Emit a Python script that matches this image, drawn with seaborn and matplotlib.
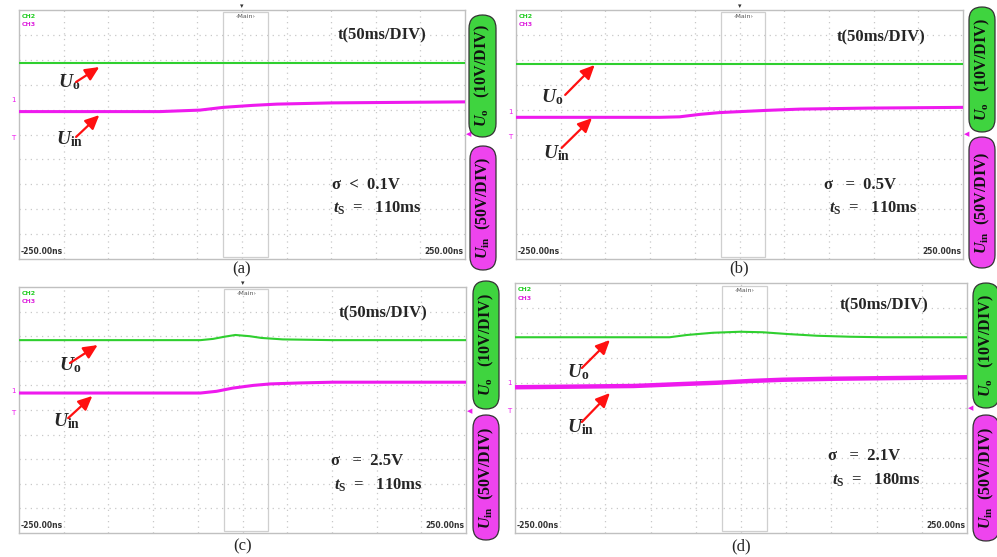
import numpy as np
import matplotlib
matplotlib.use("Agg")
import matplotlib.pyplot as plt
from matplotlib.patches import Rectangle, FancyBboxPatch
import matplotlib.transforms as mtransforms
import seaborn as sns

# ---------------- data (time in ms, level in screen divisions 0..10) ----------------
a_t_uo = [-250, 250]
a_uo = [7.87, 7.87]
a_t_uin = [-250, -92, -47, -21, 12, 39, 102, 250]
a_uin = [5.92, 5.92, 5.98, 6.09, 6.17, 6.22, 6.27, 6.31]

b_t_uo = [-250, 250]
b_uo = [7.83, 7.83]
b_t_uin = [-250, -89, -67, -44, -22, 1, 31, 68, 143, 250]
b_uin = [5.69, 5.69, 5.71, 5.81, 5.88, 5.92, 5.97, 6.02, 6.06, 6.09]

c_t_uo = [-250, -47, -33, -20, -8, 8, 21, 45, 101, 250]
c_uo = [7.84, 7.84, 7.89, 7.98, 8.05, 8.0, 7.93, 7.87, 7.84, 7.84]
c_t_uin = [-250, -47, -29, -11, 12, 31, 64, 101, 250]
c_uin = [5.69, 5.69, 5.76, 5.89, 6.00, 6.06, 6.10, 6.13, 6.13]

d_t_uo = [-250, -79, -60, -31, -1, 24, 51, 84, 121, 157, 250]
d_uo = [7.83, 7.83, 7.92, 8.01, 8.05, 8.03, 7.96, 7.89, 7.85, 7.83, 7.83]
d_t_uin = [-250, -119, -64, -27, 10, 46, 102, 176, 250]
d_uin = [5.83, 5.88, 5.96, 6.01, 6.08, 6.13, 6.17, 6.20, 6.23]

panel_labels = ["(a)", "(b)", "(c)", "(d)"]
sigma_texts = ["σ  <  0.1V", "σ   =  0.5V", "σ   =  2.5V", "σ   =  2.1V"]
ts_values = ["110ms", "110ms", "110ms", "180ms"]
time_scale = "t(50ms/DIV)"
uo_scale = r"$U_{\rm o}$   (10V/DIV)"
uin_scale = r"$U_{\rm in}$  (50V/DIV)"
left_time = "-250.00ns"
right_time = "250.00ns"

# ---------------- style ----------------
sns.set_theme(style="white")
plt.rcParams["font.family"] = ["Liberation Serif", "DejaVu Serif"]
plt.rcParams["mathtext.fontset"] = "custom"
plt.rcParams["mathtext.rm"] = "Liberation Serif:bold"
plt.rcParams["mathtext.bf"] = "Liberation Serif:bold"
plt.rcParams["mathtext.it"] = "Liberation Serif:italic:bold"

GREEN = "#2fcf2f"
MAGENTA = "#ee1aee"
PILL_G = "#3fd43f"
PILL_M = "#ee44ee"
GRID = "#c8c8c8"

W, H = 997, 557
fig = plt.figure(figsize=(W / 100, H / 100), dpi=100)


def px_axes(x0, y0, x1, y1):
    return fig.add_axes([x0 / W, (H - y1) / H, (x1 - x0) / W, (y1 - y0) / H])


panels = [
    dict(box=(19, 10, 465, 259), t_uo=a_t_uo, uo=a_uo, t_uin=a_t_uin, uin=a_uin, uin_lw=2.2, trig=True,
         uo_arrow=((-186, 7.11), (-160, 7.71)), uo_lab=(-206, 6.9),
         uin_arrow=((-186, 4.9), (-160, 5.78)), uin_lab=(-208, 4.62),
         title=(157, 9.0), sig=(101, 2.81), ts=(102, 1.85),
         markers=(6.39, 4.86, 5.03),
         pill_g=(469, 15, 496, 137), pill_m=(470, 146, 496, 270), lab_y=269),
    dict(box=(516, 10, 963, 259), t_uo=b_t_uo, uo=b_uo, t_uin=b_t_uin, uin=b_uin, uin_lw=2.2, trig=True,
         uo_arrow=((-195, 6.59), (-162, 7.79)), uo_lab=(-222, 6.31),
         uin_arrow=((-199, 4.46), (-165, 5.66)), uin_lab=(-220, 4.06),
         title=(158, 8.88), sig=(95, 2.81), ts=(100, 1.85),
         markers=(5.9, 4.9, 5.03),
         pill_g=(969, 7, 995, 132), pill_m=(969, 137, 995, 268), lab_y=268),
    dict(box=(19, 287, 466, 533), t_uo=c_t_uo, uo=c_uo, t_uin=c_t_uin, uin=c_uin, uin_lw=2.2, trig=True,
         uo_arrow=((-193, 6.91), (-162, 7.64)), uo_lab=(-205, 6.63),
         uin_arrow=((-195, 4.67), (-168, 5.57)), uin_lab=(-212, 4.35),
         title=(157, 8.94), sig=(99, 2.76), ts=(102, 1.75),
         markers=(5.76, 4.87, 4.96),
         pill_g=(473, 281, 499, 409), pill_m=(473, 415, 499, 540), lab_y=546),
    dict(box=(515, 283, 967, 533), t_uo=d_t_uo, uo=d_uo, t_uin=d_t_uin, uin=d_uin, uin_lw=3.2, trig=False,
         uo_arrow=((-176, 6.6), (-145, 7.72)), uo_lab=(-192, 6.24),
         uin_arrow=((-176, 4.44), (-145, 5.6)), uin_lab=(-192, 4.04),
         title=(158, 9.12), sig=(96, 2.92), ts=(101, 1.92),
         markers=(6.0, 4.88, 5.0),
         pill_g=(973, 283, 999, 408), pill_m=(973, 415, 999, 541), lab_y=546),
]

for i, p in enumerate(panels):
    ax = px_axes(*p["box"])
    ax.set_xlim(-250, 250)
    ax.set_ylim(0, 10)
    ax.set_facecolor("white")
    ax.set_xticks(np.arange(-200, 250, 50))
    ax.set_yticks(np.arange(1, 10, 1))
    ax.tick_params(length=0, labelbottom=False, labelleft=False)
    ax.grid(True, color=GRID, linestyle=(0, (1, 3.5)), linewidth=0.9)
    for s in ax.spines.values():
        s.set_color("#c0c0c0")
        s.set_linewidth(1.0)

    # "Main" zoom window
    ax.add_patch(Rectangle((-21, 0.08), 50, 9.82, fill=False, edgecolor="#cfcfcf", lw=0.9, zorder=2))
    ax.text(4, 9.72, "‹Main›", fontsize=4.5, ha="center", va="center", family="DejaVu Sans", color="#555555")
    if p["trig"]:
        ax.text(0, 10.05, "▾", fontsize=5, ha="center", va="bottom", family="DejaVu Sans", color="#333333",
                clip_on=False)

    # traces
    sns.lineplot(x=p["t_uo"], y=p["uo"], ax=ax, color=GREEN, linewidth=1.5, estimator=None, zorder=4)
    sns.lineplot(x=p["t_uin"], y=p["uin"], ax=ax, color=MAGENTA, linewidth=p["uin_lw"], estimator=None, zorder=4)

    # channel labels
    ax.text(0.007, 0.985, "CH2", transform=ax.transAxes, fontsize=4.5, color="#22cc22", family="DejaVu Sans",
            weight="bold", va="top", ha="left")
    ax.text(0.007, 0.95, "CH3", transform=ax.transAxes, fontsize=4.5, color="#dd22dd", family="DejaVu Sans",
            weight="bold", va="top", ha="left")
    ax.text(0.003, 0.012, left_time, transform=ax.transAxes, fontsize=5.5, color="#333333",
            family="DejaVu Sans", weight="bold", va="bottom", ha="left")
    ax.text(0.997, 0.012, right_time, transform=ax.transAxes, fontsize=5.5, color="#333333",
            family="DejaVu Sans", weight="bold", va="bottom", ha="right")

    # scope side markers
    tr = mtransforms.blended_transform_factory(ax.transAxes, ax.transData)
    m1, m2, m3 = p["markers"]
    ax.text(-0.008, m1, "1", transform=tr, fontsize=5, color=MAGENTA, ha="right", va="center",
            family="DejaVu Sans", clip_on=False)
    ax.text(-0.008, m2, "T", transform=tr, fontsize=5, color=MAGENTA, ha="right", va="center",
            family="DejaVu Sans", clip_on=False)
    ax.text(1.002, m3, "◀", transform=tr, fontsize=5, color=MAGENTA, ha="left", va="center",
            family="DejaVu Sans", clip_on=False)

    # arrows
    arrow_kw = dict(arrowstyle="-|>,head_length=0.6,head_width=0.28", color="#ff1010", lw=1.6,
                    mutation_scale=14, shrinkA=0, shrinkB=0)
    ax.annotate("", xy=p["uo_arrow"][1], xytext=p["uo_arrow"][0], arrowprops=arrow_kw, zorder=6)
    ax.annotate("", xy=p["uin_arrow"][1], xytext=p["uin_arrow"][0], arrowprops=arrow_kw, zorder=6)
    ax.text(*p["uo_lab"], r"$U_{\rm o}$", fontsize=14, ha="left", va="baseline")
    ax.text(*p["uin_lab"], r"$U_{\rm in}$", fontsize=14, ha="left", va="baseline")

    # annotations
    ax.text(*p["title"], time_scale, fontsize=12, weight="bold", ha="center", va="center")
    ax.text(*p["sig"], sigma_texts[i], fontsize=12, weight="bold", ha="left", va="baseline")
    ax.text(*p["ts"], r"$t_{\rm S}$  =   " + ts_values[i], fontsize=12, weight="bold", ha="left",
            va="baseline")

    # panel label
    x0, y0, x1, y1 = p["box"]
    fig.text((x0 + x1) / 2 / W, (H - p["lab_y"]) / H, panel_labels[i], fontsize=12, ha="center",
             va="center")

    # right-side pills
    for (px0, py0, px1, py1), col, txt in ((p["pill_g"], PILL_G, uo_scale), (p["pill_m"], PILL_M, uin_scale)):
        w_in = (px1 - px0) / 100
        h_in = (py1 - py0) / 100
        patch = FancyBboxPatch((px0 / 100, (H - py1) / 100), w_in, h_in,
                               boxstyle=f"round,pad=0,rounding_size={w_in / 2:.3f}",
                               transform=fig.dpi_scale_trans, facecolor=col, edgecolor="#333333",
                               lw=0.9, clip_on=False)
        fig.add_artist(patch)
        fig.text((px0 + px1) / 2 / W, (H - (py0 + py1) / 2) / H, txt, rotation=90, fontsize=11.5,
                 weight="bold", ha="center", va="center", color="#111111")

fig.savefig("out.png", dpi=100, facecolor="white")
